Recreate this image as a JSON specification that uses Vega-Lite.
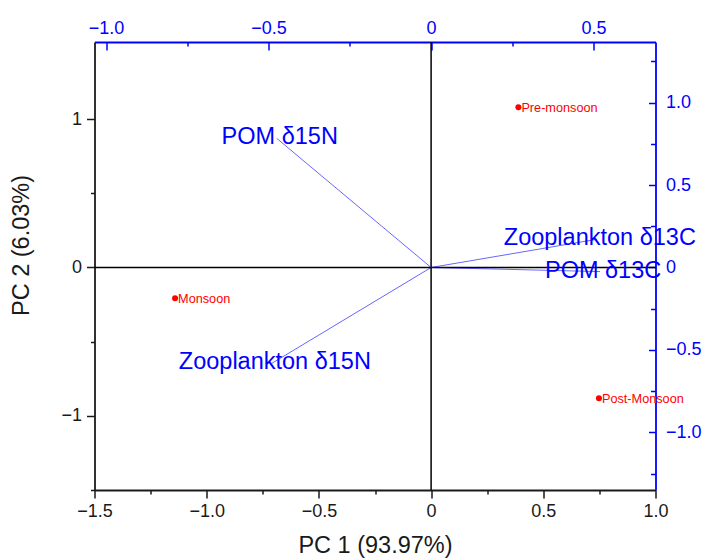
{
  "$schema": "https://vega.github.io/schema/vega-lite/v6.json",
  "width": 561,
  "height": 448,
  "autosize": {"type": "none"},
  "padding": {"left": 94.5, "top": 42, "right": 49.5, "bottom": 68},
  "background": "white",
  "config": {
    "view": {"stroke": null},
    "font": "Liberation Sans",
    "axis": {
      "grid": false,
      "labelFont": "Liberation Sans",
      "titleFont": "Liberation Sans",
      "labelFontSize": 18,
      "titleFontSize": 23.5,
      "titleFontWeight": "normal",
      "labelColor": "#1a1a1a",
      "titleColor": "#1a1a1a",
      "domainWidth": 1.8,
      "tickWidth": 1.5,
      "labelOverlap": false,
      "labelFlush": false
    }
  },
  "datasets": {
    "scores": [
      {"season": "Pre-monsoon", "pc1": 0.389, "pc2": 1.08},
      {"season": "Monsoon", "pc1": -1.141, "pc2": -0.208},
      {"season": "Post-Monsoon", "pc1": 0.748, "pc2": -0.881}
    ],
    "loadings": [
      {"variable": "POM δ15N", "l1": -0.475, "l2": 0.783},
      {"variable": "Zooplankton δ15N", "l1": -0.49, "l2": -0.581},
      {"variable": "Zooplankton δ13C", "l1": 0.51, "l2": 0.171},
      {"variable": "POM δ13C", "l1": 0.52, "l2": -0.025}
    ],
    "zero": [{"v": 0}]
  },
  "layer": [
    {
      "layer": [
        {
          "data": {"name": "zero"},
          "mark": {"type": "rule", "color": "black", "strokeWidth": 1.5},
          "encoding": {
            "y": {"field": "v", "type": "quantitative", "title": "PC 2 (6.03%)"}
          }
        },
        {
          "data": {"name": "zero"},
          "mark": {"type": "rule", "color": "black", "strokeWidth": 1.5},
          "encoding": {
            "x": {"field": "v", "type": "quantitative", "title": "PC 1 (93.97%)"}
          }
        },
        {
          "data": {"name": "scores"},
          "mark": {"type": "circle", "color": "#ff0000", "size": 36, "opacity": 1},
          "encoding": {
            "x": {
              "field": "pc1",
              "type": "quantitative",
              "title": "PC 1 (93.97%)",
              "scale": {"domain": [-1.5, 1.0], "nice": false, "zero": false},
              "axis": {
                "orient": "bottom",
                "values": [-1.5, -1.25, -1, -0.75, -0.5, -0.25, 0, 0.25, 0.5, 0.75, 1],
                "labelExpr": "abs(datum.value*2 - round(datum.value*2)) < 0.001 ? (datum.value == 0 ? '0' : format(datum.value, '.1f')) : ''",
                "tickSize": {"condition": {"test": "abs(datum.value*2 - round(datum.value*2)) < 0.001", "value": 8}, "value": 4},
                "labelPadding": 4,
                "titlePadding": 13,
                "domainColor": "#1a1a1a",
                "tickColor": "#1a1a1a"
              }
            },
            "y": {
              "field": "pc2",
              "type": "quantitative",
              "title": "PC 2 (6.03%)",
              "scale": {"domain": [-1.5, 1.52], "nice": false, "zero": false},
              "axis": {
                "orient": "left",
                "values": [-1.5, -1, -0.5, 0, 0.5, 1],
                "labelExpr": "abs(datum.value - round(datum.value)) < 0.001 ? format(datum.value, 'd') : ''",
                "tickSize": {"condition": {"test": "abs(datum.value - round(datum.value)) < 0.001", "value": 8}, "value": 4},
                "labelPadding": 5,
                "titlePadding": 27,
                "titleY": 203,
                "domainColor": "#1a1a1a",
                "tickColor": "#1a1a1a"
              }
            }
          }
        },
        {
          "data": {"name": "scores"},
          "mark": {"type": "text", "color": "#ff0000", "fontSize": 12.7, "align": "left", "baseline": "middle", "dx": 3, "dy": 0.5},
          "encoding": {
            "x": {"field": "pc1", "type": "quantitative", "title": "PC 1 (93.97%)"},
            "y": {"field": "pc2", "type": "quantitative", "title": "PC 2 (6.03%)"},
            "text": {"field": "season"}
          }
        }
      ]
    },
    {
      "data": {"name": "loadings"},
      "layer": [
        {
          "mark": {"type": "text", "color": "#0000ff", "fontSize": 23.5, "align": "center", "baseline": "middle", "dx": 3, "dy": -1},
          "encoding": {
            "x": {
              "field": "l1",
              "type": "quantitative",
              "title": null,
              "scale": {"domain": [-1.0357, 0.6905], "nice": false, "zero": false},
              "axis": {
                "orient": "top",
                "values": [-1, -0.75, -0.5, -0.25, 0, 0.25, 0.5],
                "labelExpr": "abs(datum.value*2 - round(datum.value*2)) < 0.001 ? (datum.value == 0 ? '0' : format(datum.value, '.1f')) : ''",
                "tickSize": {"condition": {"test": "abs(datum.value*2 - round(datum.value*2)) < 0.001", "value": -8}, "value": -4},
                "labelPadding": 13,
                "domainColor": "#0000ff",
                "tickColor": "#0000ff",
                "labelColor": "#0000ff"
              }
            },
            "y": {
              "field": "l2",
              "type": "quantitative",
              "title": null,
              "scale": {"domain": [-1.349, 1.367], "nice": false, "zero": false},
              "axis": {
                "orient": "right",
                "values": [-1.25, -1, -0.75, -0.5, -0.25, 0, 0.25, 0.5, 0.75, 1, 1.25],
                "labelExpr": "abs(datum.value*2 - round(datum.value*2)) < 0.001 ? (datum.value == 0 ? '0' : format(datum.value, '.1f')) : ''",
                "tickSize": {"condition": {"test": "abs(datum.value*2 - round(datum.value*2)) < 0.001", "value": -7}, "value": -5},
                "labelPadding": 17,
                "domainColor": "#0000ff",
                "tickColor": "#0000ff",
                "labelColor": "#0000ff"
              }
            },
            "text": {"field": "variable"}
          }
        },
        {
          "mark": {"type": "rule", "color": "#0000ff", "strokeWidth": 1, "opacity": 0.6},
          "encoding": {
            "x": {"field": "l1", "type": "quantitative", "title": null},
            "y": {"field": "l2", "type": "quantitative", "title": null},
            "x2": {"datum": 0},
            "y2": {"datum": 0}
          }
        }
      ]
    }
  ],
  "resolve": {
    "scale": {"x": "independent", "y": "independent"},
    "axis": {"x": "independent", "y": "independent"}
  }
}
